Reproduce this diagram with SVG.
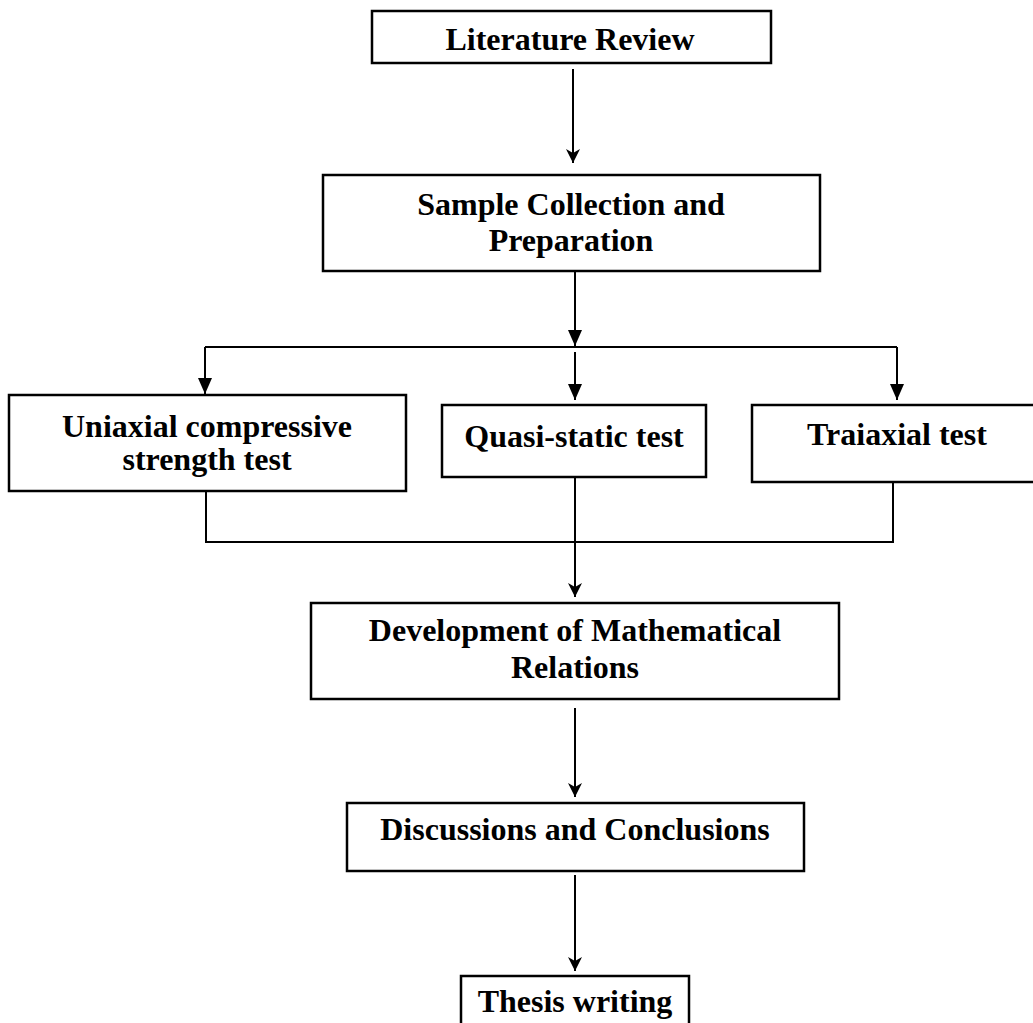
<svg xmlns="http://www.w3.org/2000/svg" width="1033" height="1023" viewBox="0 0 1033 1023">
<defs>
<style>
.box{fill:#fff;stroke:#000;stroke-width:2.5}
.t{font-family:"Liberation Serif","Times New Roman",serif;font-weight:bold;font-size:32px;fill:#000;text-anchor:middle}
.c{fill:none;stroke:#000;stroke-width:2}
</style>
<marker id="ah" viewBox="0 0 16 14" refX="16" refY="7" markerWidth="16" markerHeight="14" markerUnits="userSpaceOnUse" orient="auto">
<path d="M0,0 L16,7 L0,14 z" fill="#000"/>
</marker>
<marker id="ah2" viewBox="0 0 14 14" refX="14" refY="7" markerWidth="14" markerHeight="14" markerUnits="userSpaceOnUse" orient="auto">
<path d="M0,0 L14,7 L0,14 L4,7 z" fill="#000"/>
</marker>
</defs>
<rect width="1033" height="1023" fill="#fff"/>
<g id="connectors">
<line class="c" x1="573" y1="69" x2="573" y2="163" marker-end="url(#ah2)"/>
<line class="c" x1="575" y1="272" x2="575" y2="346" marker-end="url(#ah)"/>
<line class="c" x1="205" y1="347" x2="897" y2="347"/>
<line class="c" x1="205" y1="347" x2="205" y2="394" marker-end="url(#ah)"/>
<line class="c" x1="575" y1="352" x2="575" y2="400" marker-end="url(#ah)"/>
<line class="c" x1="897" y1="347" x2="897" y2="400" marker-end="url(#ah)"/>
<polyline class="c" points="206,491 206,542 893,542 893,479"/>
<line class="c" x1="575" y1="477" x2="575" y2="597" marker-end="url(#ah2)"/>
<line class="c" x1="575" y1="708" x2="575" y2="797" marker-end="url(#ah2)"/>
<line class="c" x1="575" y1="875" x2="575" y2="971" marker-end="url(#ah2)"/>
</g>
<g id="literature-review">
<rect class="box" x="372" y="11" width="399" height="52"/>
<text class="t" x="570" y="50">Literature Review</text>
</g>
<g id="sample-collection">
<rect class="box" x="323" y="175" width="497" height="96"/>
<text class="t" x="571" y="215">Sample Collection and</text>
<text class="t" x="571" y="251">Preparation</text>
</g>
<g id="uniaxial">
<rect class="box" x="9" y="395" width="397" height="96"/>
<text class="t" x="207" y="437">Uniaxial compressive</text>
<text class="t" x="207" y="470">strength test</text>
</g>
<g id="quasi-static">
<rect class="box" x="442" y="405" width="264" height="72"/>
<text class="t" x="574" y="447">Quasi-static test</text>
</g>
<g id="triaxial">
<rect class="box" x="752" y="405" width="300" height="77"/>
<text class="t" x="897" y="445">Traiaxial test</text>
</g>
<g id="development">
<rect class="box" x="311" y="603" width="528" height="96"/>
<text class="t" x="575" y="641">Development of Mathematical</text>
<text class="t" x="575" y="678">Relations</text>
</g>
<g id="discussions">
<rect class="box" x="347" y="803" width="457" height="68"/>
<text class="t" x="575" y="840">Discussions and Conclusions</text>
</g>
<g id="thesis">
<rect class="box" x="461" y="976" width="228" height="60"/>
<text class="t" x="575" y="1012">Thesis writing</text>
</g>
</svg>
